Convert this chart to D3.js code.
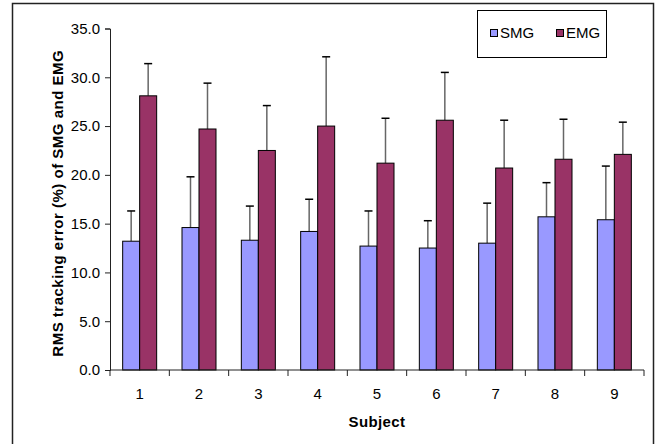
<!DOCTYPE html>
<html>
<head>
<meta charset="utf-8">
<script src="https://cdn.jsdelivr.net/npm/d3@7"></script>
<style>
  body { margin: 0; background: #fff; }
  text { font-family: "Liberation Sans", Arial, sans-serif; }
</style>
</head>
<body>
<svg width="662" height="444"></svg>
<script>
var subjects = ["1", "2", "3", "4", "5", "6", "7", "8", "9"];
var smg = [13.2, 14.6, 13.3, 14.2, 12.7, 12.5, 13.0, 15.7, 15.4];
var smgErr = [3.1, 5.2, 3.5, 3.3, 3.6, 2.8, 4.1, 3.5, 5.5];
var emg = [28.1, 24.7, 22.5, 25.0, 21.2, 25.6, 20.7, 21.6, 22.1];
var emgErr = [3.3, 4.7, 4.6, 7.1, 4.6, 4.9, 4.9, 4.1, 3.3];
var yTicks = [0, 5, 10, 15, 20, 25, 30, 35];
var seriesNames = ["SMG", "EMG"];
var colors = ["#9999ff", "#993366"];

var svg = d3.select("svg"),
  margin = {top: 28.5, right: 18, bottom: 74, left: 110},
  width = +svg.attr("width") - margin.left - margin.right,
  height = +svg.attr("height") - margin.top - margin.bottom;

// outer frame (no bottom edge visible)
svg.append("path")
  .attr("d", "M12.5,444V3.5H653.5V444")
  .attr("fill", "none")
  .attr("stroke", "#222")
  .attr("stroke-width", 1.5);

var g = svg.append("g").attr("transform", "translate(" + margin.left + "," + margin.top + ")");

var x = d3.scaleBand().domain(subjects).range([0, width]);
var x1 = d3.scaleBand().domain(seriesNames).range([0, 34]);
var y = d3.scaleLinear().domain([0, 35]).range([height, 0]);

var data = subjects.map(function(s, i) {
  return {subject: s, vals: [
    {name: "SMG", v: smg[i], e: smgErr[i]},
    {name: "EMG", v: emg[i], e: emgErr[i]}
  ]};
});

var groups = g.selectAll(".grp")
  .data(data)
  .enter().append("g")
  .attr("transform", function(d) {
    return "translate(" + (x(d.subject) + x.bandwidth() / 2 - 17) + ",0)";
  });

// error bars (drawn first so bars sit over them)
groups.selectAll(".err")
  .data(function(d) { return d.vals; })
  .enter().append("line")
  .attr("x1", function(d) { return x1(d.name) + x1.bandwidth() / 2; })
  .attr("x2", function(d) { return x1(d.name) + x1.bandwidth() / 2; })
  .attr("y1", function(d) { return y(d.v); })
  .attr("y2", function(d) { return y(d.v + d.e); })
  .attr("stroke", "#666")
  .attr("stroke-width", 1.5);

groups.selectAll(".cap")
  .data(function(d) { return d.vals; })
  .enter().append("line")
  .attr("x1", function(d) { return x1(d.name) + x1.bandwidth() / 2 - 4; })
  .attr("x2", function(d) { return x1(d.name) + x1.bandwidth() / 2 + 4; })
  .attr("y1", function(d) { return y(d.v + d.e); })
  .attr("y2", function(d) { return y(d.v + d.e); })
  .attr("stroke", "#000")
  .attr("stroke-width", 1.5);

groups.selectAll("rect")
  .data(function(d) { return d.vals; })
  .enter().append("rect")
  .attr("x", function(d) { return x1(d.name); })
  .attr("width", x1.bandwidth())
  .attr("y", function(d) { return y(d.v); })
  .attr("height", function(d) { return height - y(d.v); })
  .attr("fill", function(d, i) { return colors[i]; })
  .attr("stroke", "#000")
  .attr("stroke-width", 1);

// y axis
var yAxis = g.append("g")
  .call(d3.axisLeft(y).tickValues(yTicks).tickFormat(d3.format(".1f")).tickSizeOuter(0).tickSize(5));
yAxis.selectAll("text")
  .attr("font-size", 15)
  .attr("font-family", "Liberation Sans, Arial, sans-serif")
  .attr("fill", "#000")
  .attr("x", -10);
yAxis.selectAll("line, path").attr("stroke", "#222");

// x axis: ticks at category boundaries
var xAxis = g.append("g").attr("transform", "translate(0," + height + ")");
xAxis.append("line").attr("x1", 0).attr("x2", width).attr("stroke", "#222");
xAxis.selectAll(".tk")
  .data(subjects.concat(["end"]))
  .enter().append("line")
  .attr("x1", function(d, i) { return i * x.step(); })
  .attr("x2", function(d, i) { return i * x.step(); })
  .attr("y1", 0).attr("y2", 6)
  .attr("stroke", "#222");
xAxis.selectAll(".lbl")
  .data(subjects)
  .enter().append("text")
  .attr("x", function(d) { return x(d) + x.bandwidth() / 2; })
  .attr("y", 29)
  .attr("text-anchor", "middle")
  .attr("font-size", 15)
  .text(function(d) { return d; });

// axis titles
g.append("text")
  .attr("x", width / 2)
  .attr("y", height + 57)
  .attr("text-anchor", "middle")
  .attr("font-size", 15)
  .attr("font-weight", "bold")
  .attr("letter-spacing", 0.4)
  .text("Subject");

g.append("text")
  .attr("transform", "rotate(-90)")
  .attr("x", -height / 2 - 4)
  .attr("y", -47)
  .attr("text-anchor", "middle")
  .attr("font-size", 15)
  .attr("font-weight", "bold")
  .attr("letter-spacing", 0.5)
  .text("RMS tracking error (%) of SMG and EMG");

// legend
var legend = svg.append("g").attr("transform", "translate(477.5,10.5)");
legend.append("rect")
  .attr("width", 129).attr("height", 47)
  .attr("fill", "#fff").attr("stroke", "#000");
var items = legend.selectAll(".item")
  .data(seriesNames)
  .enter().append("g")
  .attr("transform", function(d, i) { return "translate(" + (13 + i * 66) + ",19)"; });
items.append("rect")
  .attr("width", 7).attr("height", 7)
  .attr("fill", function(d, i) { return colors[i]; })
  .attr("stroke", "#000");
items.append("text")
  .attr("x", 9.5).attr("y", 8.5)
  .attr("font-size", 15)
  .text(function(d) { return d; });
</script>
</body>
</html>
